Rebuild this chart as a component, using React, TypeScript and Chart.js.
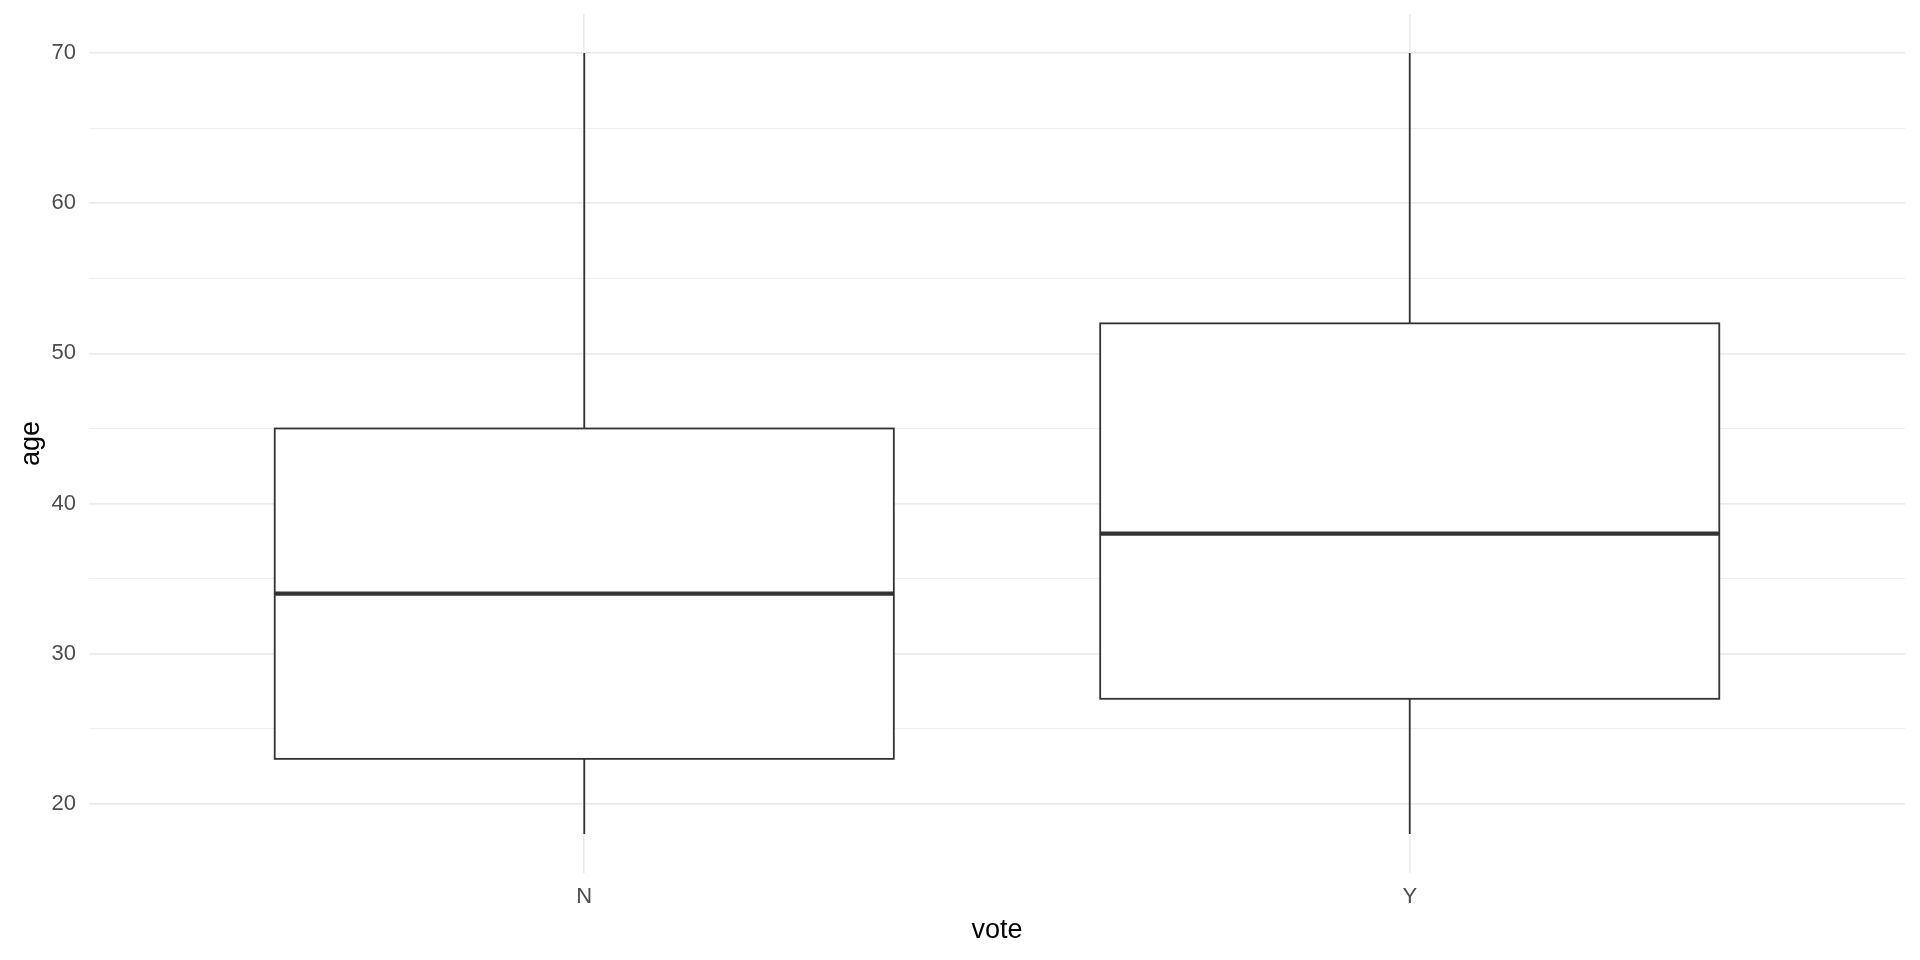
import React, { useEffect, useRef } from 'react';
import { Chart, registerables } from 'chart.js';

Chart.register(...registerables);

const categories = ['N', 'Y'];
const whiskerLow = [18, 18];
const lowerQuartile = [23, 27];
const medianValues = [34, 38];
const upperQuartile = [45, 52];
const whiskerHigh = [70, 70];
const majorTicks = [20, 30, 40, 50, 60, 70];
const minorTicks = [25, 35, 45, 55, 65];

const BOX_HALF = 0.375;
const LINE_COLOR = '#333333';
const GRID_COLOR = '#EBEBEB';
const FONT = "'Liberation Sans', Arial, sans-serif";

const boxPlugin = {
  id: 'boxes',
  afterDatasetsDraw(chart: any) {
    const { ctx } = chart;
    const x = chart.scales.x;
    const y = chart.scales.y;
    ctx.save();
    ctx.strokeStyle = LINE_COLOR;
    categories.forEach((_, i) => {
      const pos = i + 1;
      const cx = x.getPixelForValue(pos);
      const left = x.getPixelForValue(pos - BOX_HALF);
      const right = x.getPixelForValue(pos + BOX_HALF);
      const yLow = y.getPixelForValue(whiskerLow[i]);
      const yQ1 = y.getPixelForValue(lowerQuartile[i]);
      const yMed = y.getPixelForValue(medianValues[i]);
      const yQ3 = y.getPixelForValue(upperQuartile[i]);
      const yHigh = y.getPixelForValue(whiskerHigh[i]);
      // whiskers
      ctx.lineWidth = 1.8;
      ctx.beginPath();
      ctx.moveTo(cx, yHigh);
      ctx.lineTo(cx, yQ3);
      ctx.moveTo(cx, yQ1);
      ctx.lineTo(cx, yLow);
      ctx.stroke();
      // box
      ctx.fillStyle = '#FFFFFF';
      ctx.fillRect(left, yQ3, right - left, yQ1 - yQ3);
      ctx.strokeRect(left, yQ3, right - left, yQ1 - yQ3);
      // median
      ctx.lineWidth = 4.2;
      ctx.beginPath();
      ctx.moveTo(left, yMed);
      ctx.lineTo(right, yMed);
      ctx.stroke();
    });
    ctx.restore();
  },
};

export default function App() {
  const canvasRef = useRef<HTMLCanvasElement | null>(null);

  useEffect(() => {
    document.body.style.margin = '0';
    const canvas = canvasRef.current;
    if (!canvas) return;
    const chart = new Chart(canvas, {
      type: 'scatter',
      data: { datasets: [] },
      plugins: [boxPlugin],
      options: {
        animation: false,
        responsive: false,
        devicePixelRatio: 1,
        layout: { padding: { left: 0, right: 15, top: 14, bottom: 0 } },
        plugins: { legend: { display: false }, tooltip: { enabled: false } },
        scales: {
          x: {
            type: 'linear',
            min: 0.4,
            max: 2.6,
            afterBuildTicks: (scale: any) => {
              scale.ticks = categories.map((_, i) => ({ value: i + 1 }));
            },
            afterFit: (scale: any) => {
              scale.height = 87;
              scale.paddingLeft = 0;
              scale.paddingRight = 0;
            },
            border: { display: false },
            grid: { color: GRID_COLOR, lineWidth: 1.7, drawTicks: false },
            ticks: {
              autoSkip: false,
              maxRotation: 0,
              padding: 11,
              color: '#4D4D4D',
              font: { family: FONT, size: 22 },
              callback: (v: any) => categories[Math.round(Number(v)) - 1] ?? '',
            },
            title: {
              display: true,
              text: 'vote',
              color: '#000000',
              font: { family: FONT, size: 27 },
              padding: { top: 0, bottom: 13 },
            },
          },
          y: {
            type: 'linear',
            min: 15.4,
            max: 72.6,
            afterBuildTicks: (scale: any) => {
              scale.ticks = [...minorTicks, ...majorTicks]
                .sort((a, b) => a - b)
                .map((v) => ({ value: v }));
            },
            afterFit: (scale: any) => {
              scale.width = 89;
              scale.paddingTop = 0;
              scale.paddingBottom = 0;
            },
            border: { display: false },
            grid: {
              color: GRID_COLOR,
              lineWidth: (c: any) => (majorTicks.includes(c.tick?.value) ? 1.7 : 0.85),
              drawTicks: false,
            },
            ticks: {
              autoSkip: false,
              padding: 13,
              color: '#4D4D4D',
              font: { family: FONT, size: 22 },
              callback: (v: any) => (majorTicks.includes(Number(v)) ? String(v) : ''),
            },
            title: {
              display: true,
              text: 'age',
              color: '#000000',
              font: { family: FONT, size: 27 },
              padding: { top: 15, bottom: 0 },
            },
          },
        },
      },
    });
    return () => chart.destroy();
  }, []);

  return (
    <div style={{ width: 1920, height: 960, background: '#FFFFFF' }}>
      <canvas ref={canvasRef} width={1920} height={960} style={{ display: 'block' }} />
    </div>
  );
}
